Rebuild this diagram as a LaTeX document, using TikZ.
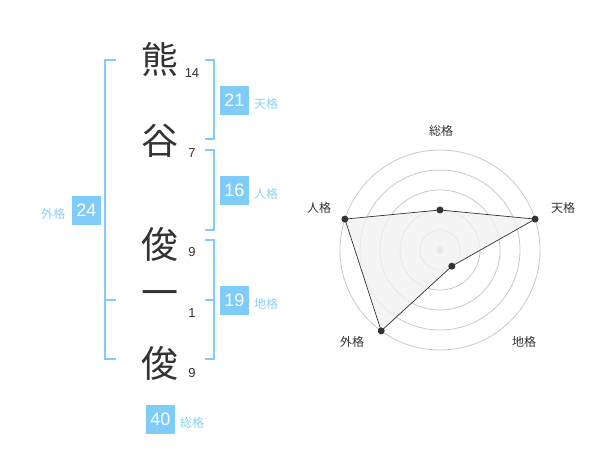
\documentclass[tikz,border=0pt]{standalone}
\usepackage{fontspec}
\setmainfont{Liberation Sans}
\newfontfamily\jp{Noto Sans CJK JP}
\definecolor{blu}{RGB}{127,204,248}
\definecolor{blutxt}{RGB}{140,208,245}
\definecolor{ink}{RGB}{51,51,51}
\definecolor{ringc}{RGB}{200,200,200}
\definecolor{polyfill}{RGB}{241,241,241}
\tikzset{
  kanji/.style={font=\jp\fontsize{37}{37}\selectfont, text=ink, inner sep=0pt},
  strokenum/.style={font=\fontsize{13}{13}\selectfont, text=ink, inner sep=0pt},
  valbox/.style={fill=blu, text=white, minimum width=29pt, minimum height=29pt, inner sep=0pt, font=\fontsize{18}{18}\selectfont},
  gaku/.style={text=blutxt, font=\jp\fontsize{12}{12}\selectfont, inner sep=0pt},
  brk/.style={draw=blu, line width=2pt},
  ring/.style={draw=ringc, line width=0.8pt},
  rlab/.style={text=ink, font=\jp\fontsize{12}{12}\selectfont, inner sep=0pt},
  dotnode/.style={circle, fill=ink, minimum size=7pt, inner sep=0pt},
}
\begin{document}
\begin{tikzpicture}[x=1pt,y=-1pt]
\useasboundingbox (0,0) rectangle (600,470);
% kanji
\node[kanji] (k1) at (160,59) {熊};
\node[kanji] (k2) at (160,141) {谷};
\node[kanji] (k3) at (160,244) {俊};
\node[kanji] (k4) at (160,299) {一};
\node[kanji] (k5) at (160,363) {俊};
% stroke counts
\node[strokenum] (n1) at (192,73) {14};
\node[strokenum] (n2) at (192,153) {7};
\node[strokenum] (n3) at (192,252) {9};
\node[strokenum] (n4) at (192,313) {1};
\node[strokenum] (n5) at (192,373) {9};
% left bracket
\coordinate (L1) at (116,60); \coordinate (L2) at (105,60);
\coordinate (L3) at (105,359); \coordinate (L4) at (116,359);
\coordinate (Lm1) at (105,300); \coordinate (Lm2) at (116,300);
\draw[brk] (L1) -- (L2) -- (L3) -- (L4);
\draw[brk] (Lm1) -- (Lm2);
% right brackets
\coordinate (T1) at (205,60); \coordinate (T2) at (214,60);
\coordinate (T3) at (214,139); \coordinate (T4) at (205,139);
\draw[brk] (T1) -- (T2) -- (T3) -- (T4);
\coordinate (J1) at (205,150); \coordinate (J2) at (214,150);
\coordinate (J3) at (214,230); \coordinate (J4) at (205,230);
\draw[brk] (J1) -- (J2) -- (J3) -- (J4);
\coordinate (C1) at (205,240); \coordinate (C2) at (214,240);
\coordinate (C3) at (214,359); \coordinate (C4) at (205,359);
\coordinate (Cm1) at (205,300); \coordinate (Cm2) at (214,300);
\draw[brk] (C1) -- (C2) -- (C3) -- (C4);
\draw[brk] (Cm1) -- (Cm2);
% value boxes
\node[valbox] (b21) at (234.3,100.3) {21};
\node[gaku, anchor=west] (g21) at (254,104) {天格};
\node[valbox] (b16) at (234.3,190.2) {16};
\node[gaku, anchor=west] (g16) at (254,194) {人格};
\node[valbox] (b24) at (86.3,210.2) {24};
\node[gaku, anchor=east] (g24) at (65.5,214) {外格};
\node[valbox] (b19) at (234.3,300.3) {19};
\node[gaku, anchor=west] (g19) at (254,304) {地格};
\node[valbox] (b40) at (160.3,419.2) {40};
\node[gaku, anchor=west] (g40) at (180,423) {総格};
% radar
\coordinate (RC) at (440,250);
\foreach \r in {20,40,60,80,100} \draw[ring] (RC) circle[radius=\r pt];
\node[circle, fill=ringc, minimum size=7pt, inner sep=0pt] (rc) at (RC) {};
\coordinate (P1) at (440,210);
\coordinate (P2) at (535.1,219.1);
\coordinate (P3) at (451.8,266.2);
\coordinate (P4) at (381.2,330.9);
\coordinate (P5) at (344.9,219.1);
\draw[draw=ink, fill=polyfill, fill opacity=0.8, line width=0.7pt] (P1) -- (P2) -- (P3) -- (P4) -- (P5) -- cycle;
\node[dotnode] (d1) at (P1) {};
\node[dotnode] (d2) at (P2) {};
\node[dotnode] (d3) at (P3) {};
\node[dotnode] (d4) at (P4) {};
\node[dotnode] (d5) at (P5) {};
\node[rlab] (r1) at (441,131) {総格};
\node[rlab] (r2) at (563,208) {天格};
\node[rlab] (r3) at (319,208) {人格};
\node[rlab] (r4) at (352,342) {外格};
\node[rlab] (r5) at (524,342) {地格};
\end{tikzpicture}
\end{document}
